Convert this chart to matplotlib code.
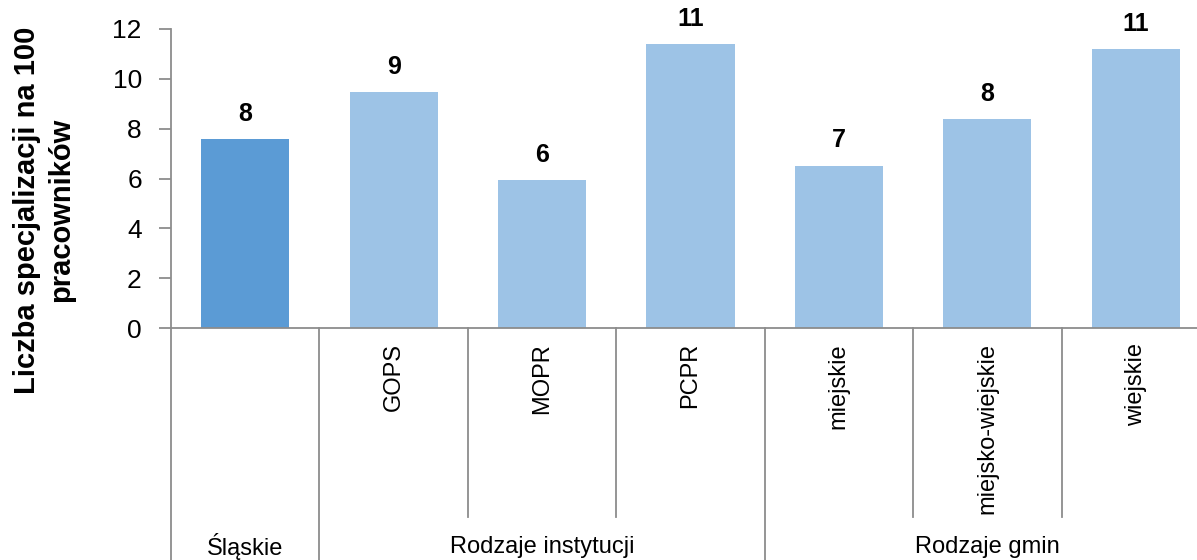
import matplotlib
matplotlib.use('Agg')
import matplotlib.pyplot as plt

plt.rcParams['font.family'] = ['Liberation Sans', 'DejaVu Sans']

# dane
categories = ['', 'GOPS', 'MOPR', 'PCPR', 'miejskie', 'miejsko-wiejskie', 'wiejskie']
values = [7.6, 9.48, 5.92, 11.38, 6.52, 8.4, 11.2]
groups = ['Śląskie', 'Rodzaje instytucji', 'Rodzaje gmin']
group_sizes = [1, 3, 3]
colors = ['#5B9BD5'] + ['#9DC3E6'] * 6

W, H = 1197, 560
fig = plt.figure(figsize=(W / 100, H / 100), dpi=100)
# wykres wychodzi poza prawą krawędź, jak w oryginale
ax = fig.add_axes([171 / W, 1 - 328 / H, (1210 - 171) / W, (328 - 29) / H])

x = range(len(values))
ax.bar(x, values, width=0.593, color=colors, edgecolor='none')
ax.set_xlim(-0.5, len(values) - 0.5)
ax.set_ylim(0, 12)
ax.set_yticks(range(0, 13, 2))
ax.tick_params(axis='y', labelsize=19, length=9, width=1.3, color='#8C8C8C', pad=12)
ax.set_xticks([])
for s in ['top', 'right']:
    ax.spines[s].set_visible(False)
for s in ['left', 'bottom']:
    ax.spines[s].set_color('#8C8C8C')
    ax.spines[s].set_linewidth(1.3)

# etykiety wartości
for i, v in enumerate(values):
    ax.annotate('%.0f' % v, (i, v), xytext=(0, 13), textcoords='offset points',
                ha='center', va='baseline', fontsize=18, fontweight='bold')

# oś kategorii wielopoziomowa
tr = ax.get_xaxis_transform()
px = 1 / 299  # piksel w jednostkach osi
for i, c in enumerate(categories):
    if c:
        ax.text(i, -15 * px, c, rotation=90, ha='center', va='top', fontsize=17,
                transform=tr)

start = 0
bounds = [-0.5]
for g, n in zip(groups, group_sizes):
    ax.text(start + (n - 1) / 2, -219 * px, g, ha='center', va='center', fontsize=17,
            transform=tr)
    for k in range(1, n):
        ax.plot([start + k - 0.5] * 2, [0, -189 * px], color='#8C8C8C', lw=1.3,
                transform=tr, clip_on=False)
    start += n
    bounds.append(start - 0.5)
for b in bounds:
    ax.plot([b, b], [0, -232 * px], color='#8C8C8C', lw=1.3, transform=tr, clip_on=False)

fig.text(44 / W, 1 - 210 / H, 'Liczba specjalizacji na 100\npracowników', rotation=90,
         ha='center', va='center', multialignment='center', fontsize=21,
         fontweight='bold', linespacing=1.3)

fig.savefig('out.png', dpi=100)
